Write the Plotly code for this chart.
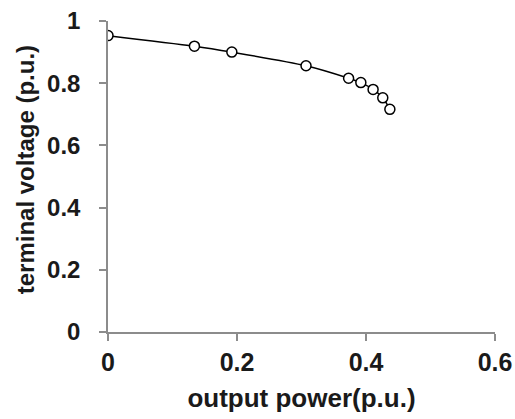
import plotly.graph_objects as go

output_power = [0.0, 0.134, 0.192, 0.307, 0.373, 0.392, 0.411, 0.426, 0.437]
terminal_voltage = [0.953, 0.919, 0.900, 0.856, 0.816, 0.802, 0.780, 0.753, 0.716]

x_ticks = [0, 0.2, 0.4, 0.6]
x_tick_labels = ["0", "0.2", "0.4", "0.6"]
y_ticks = [0, 0.2, 0.4, 0.6, 0.8, 1]
y_tick_labels = ["0", "0.2", "0.4", "0.6", "0.8", "1"]

fig = go.Figure()
fig.add_trace(go.Scatter(
    x=output_power, y=terminal_voltage,
    mode="lines+markers",
    line=dict(color="black", width=1.5, shape="spline", smoothing=0.8),
    marker=dict(symbol="circle", size=10, color="white",
                line=dict(color="black", width=1.5)),
    showlegend=False,
))

font = "Liberation Sans, Arial, sans-serif"
axis_color = "#8c8c8c"
plot_left, plot_right = 108, 495

fig.update_layout(
    width=515, height=419,
    margin=dict(l=plot_left, r=515 - plot_right, t=21, b=87),
    paper_bgcolor="white", plot_bgcolor="white",
    font=dict(family=font, color="#1a1a1a"),
    xaxis=dict(
        range=[0, 0.6], tickvals=x_ticks, ticktext=x_tick_labels,
        showgrid=False, zeroline=False, showline=True, automargin=False,
        linecolor=axis_color, linewidth=1.5,
        ticks="outside", ticklen=7, tickwidth=1.5, tickcolor=axis_color,
        tickfont=dict(size=25, family=font, weight="bold"),
        title=dict(text="<b>output power(p.u.)</b>", font=dict(size=26, family=font), standoff=14),
    ),
    yaxis=dict(
        range=[0, 1], tickvals=y_ticks, ticktext=y_tick_labels,
        showgrid=False, zeroline=False, showline=True, automargin=False,
        linecolor=axis_color, linewidth=1.5,
        ticks="outside", ticklen=7, tickwidth=1.5, tickcolor=axis_color,
        tickfont=dict(size=24, family=font, weight="bold"),
        ticklabelstandoff=14,
    ),
    annotations=[dict(
        text="<b>terminal voltage (p.u.)</b>", textangle=-90,
        xref="paper", yref="paper",
        x=(25 - plot_left) / (plot_right - plot_left), y=0.52,
        xanchor="center", yanchor="middle", showarrow=False,
        font=dict(size=24, family=font, color="#1a1a1a"),
    )],
)

fig.write_html("out.html")
